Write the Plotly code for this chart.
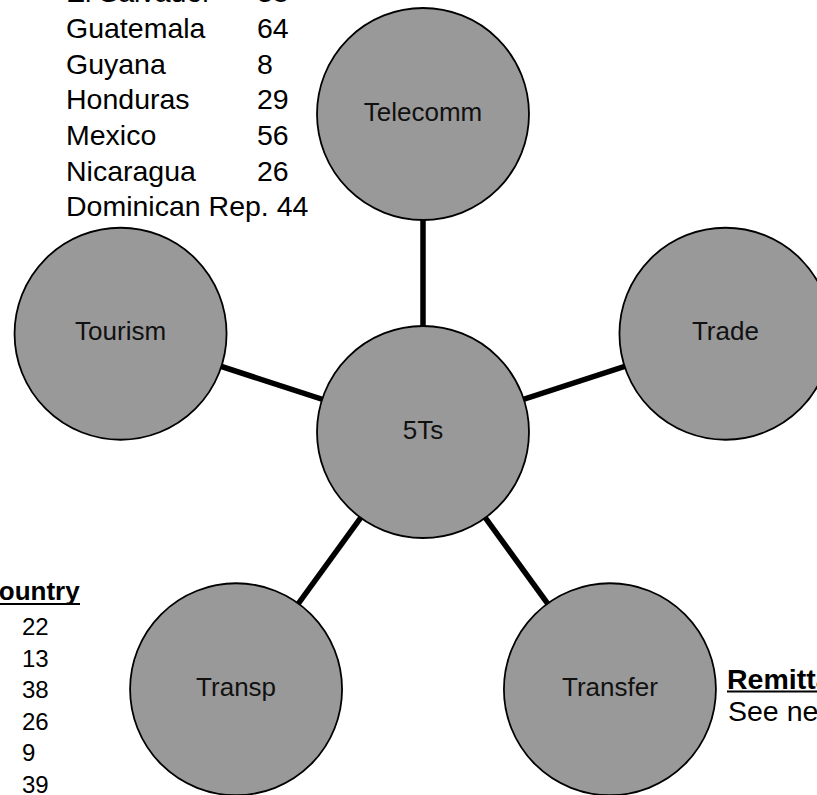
import math
import plotly.graph_objects as go

# diagram nodes
hub_name = "5Ts"
spokes = ["Telecomm", "Trade", "Transfer", "Transp", "Tourism"]

# country table, top left
countries = ["El Salvador", "Guatemala", "Guyana", "Honduras", "Mexico", "Nicaragua"]
country_vals = [38, 64, 8, 29, 56, 26]
last_country = "Dominican Rep."
last_val = 44

# per-country column, bottom left
per_country = [22, 13, 38, 26, 9, 39]

W, H = 817, 795
hub_x, hub_y = 423, 432
spoke_len = 318
node_size = 212
font = "Liberation Sans, Arial, sans-serif"

# pentagon layout, first spoke straight up
xs, ys = [], []
for i, name in enumerate(spokes):
    ang = math.radians(90 - 72 * i)
    xs.append(hub_x + spoke_len * math.cos(ang))
    ys.append(hub_y - spoke_len * math.sin(ang))

lx, ly = [], []
for x, y in zip(xs, ys):
    lx += [hub_x, x, None]
    ly += [hub_y, y, None]

fig = go.Figure()
fig.add_trace(go.Scatter(x=lx, y=ly, mode="lines",
                         line=dict(color="black", width=5.5),
                         hoverinfo="skip"))
fig.add_trace(go.Scatter(
    x=[hub_x] + xs, y=[hub_y] + ys, mode="markers+text",
    text=[hub_name] + spokes, textposition="middle center",
    textfont=dict(family=font, size=26, color="#111"),
    marker=dict(size=node_size, color="#999999",
                line=dict(color="black", width=1.8)),
    hoverinfo="text"))


def note(x, y, text, size, anchor="left"):
    # pixel position -> paper coords so texts past the edge still draw
    return dict(x=x / W, y=1 - y / H, xref="paper", yref="paper",
                text=text, xanchor=anchor, yanchor="middle",
                showarrow=False,
                font=dict(family=font, size=size, color="black"))


ann = []
# top-left table
for i, (c, v) in enumerate(zip(countries, country_vals)):
    y = -7.5 + 35.6 * i
    ann.append(note(64, y, c, 28.5))
    ann.append(note(255, y, str(v), 28.5))
ann.append(note(64, -7.5 + 35.6 * len(countries),
                f"{last_country} {last_val}", 28.5))

# bottom-left column
ann.append(note(82, 591, "<b>Country</b>", 26, "right"))
for i, v in enumerate(per_country):
    ann.append(note(20, 626.5 + 31.6 * i, str(v), 24))

# remittances note
ann.append(note(725, 678.5, "<b>Remittances</b>", 28.5))
ann.append(note(726, 710.5, "See next page", 28.5))

shapes = [
    dict(type="line", x0=-20, x1=80, y0=604, y1=604,
         line=dict(color="black", width=2)),
    dict(type="line", x0=727, x1=900, y0=691.5, y1=691.5,
         line=dict(color="black", width=2)),
]

fig.update_layout(
    width=W, height=H,
    margin=dict(l=0, r=0, t=0, b=0),
    paper_bgcolor="white", plot_bgcolor="white",
    showlegend=False,
    annotations=ann, shapes=shapes,
    xaxis=dict(range=[0, W], visible=False, fixedrange=True),
    yaxis=dict(range=[H, 0], visible=False, fixedrange=True),
)

fig.write_html("out.html", config={"displayModeBar": False},
               post_script="document.body.style.margin='0';")
